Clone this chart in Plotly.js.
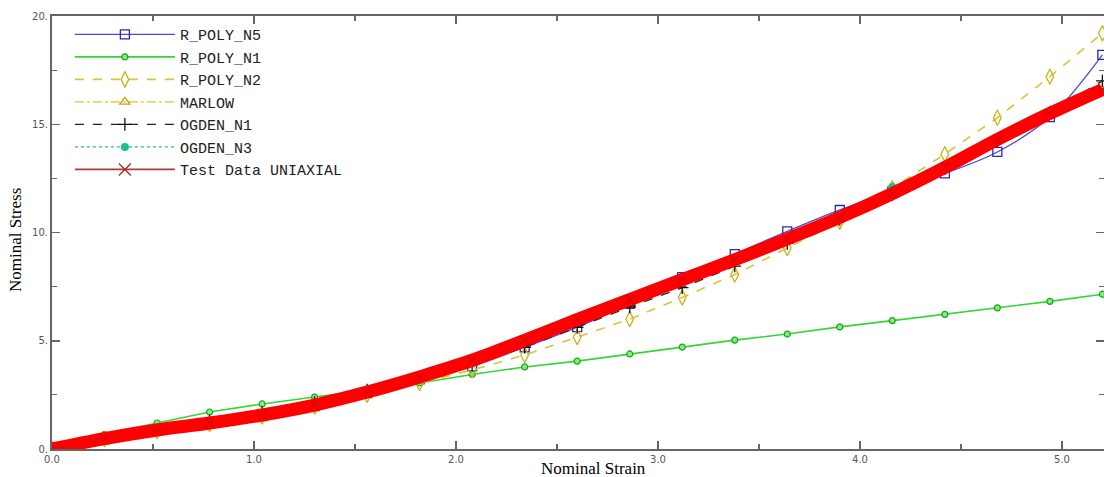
<!DOCTYPE html>
<html>
<head>
<meta charset="utf-8">
<script src="https://cdn.plot.ly/plotly-3.0.1.min.js"></script>
<style>html,body{margin:0;padding:0;background:#fff;}#chart{width:1104px;height:477px;}</style>
</head>
<body>
<div id="chart"></div>
<script>
// Nominal strain at which the models are evaluated
const strain = [0, 0.26, 0.52, 0.78, 1.04, 1.30, 1.56, 1.82, 2.08, 2.34, 2.60, 2.86, 3.12, 3.38, 3.64, 3.90, 4.16, 4.42, 4.68, 4.94, 5.20];

// Nominal stress of each series
const rPolyN5 = [0, 0.45, 0.85, 1.18, 1.52, 1.98, 2.58, 3.22, 3.82, 4.70, 5.63, 6.70, 7.94, 9.00, 10.05, 11.04, 11.90, 12.73, 13.72, 15.33, 18.20];
const rPolyN1 = [0, 0.68, 1.20, 1.71, 2.08, 2.40, 2.72, 3.05, 3.44, 3.79, 4.06, 4.39, 4.71, 5.03, 5.31, 5.64, 5.93, 6.22, 6.52, 6.82, 7.15];
const rPolyN2 = [0, 0.45, 0.82, 1.15, 1.50, 1.95, 2.50, 3.05, 3.65, 4.34, 5.17, 6.00, 7.00, 8.06, 9.28, 10.50, 12.05, 13.62, 15.30, 17.20, 19.20];
const marlow  = [0, 0.47, 0.87, 1.20, 1.56, 2.02, 2.62, 3.32, 4.08, 5.00, 5.96, 6.88, 7.80, 8.72, 9.68, 10.68, 11.78, 12.98, 14.28, 15.48, 16.58];
const ogdenN1 = [0, 0.50, 0.90, 1.30, 1.68, 2.15, 2.72, 3.30, 3.90, 4.70, 5.62, 6.56, 7.45, 8.45, 9.50, 10.60, 11.75, 12.95, 14.20, 15.55, 17.00];
const ogdenN3 = [0, 0.46, 0.86, 1.20, 1.58, 2.05, 2.65, 3.35, 4.10, 5.00, 5.95, 6.88, 7.80, 8.72, 9.70, 10.78, 12.10, 13.05, 14.30, 15.50, 16.50];
const testData = [0, 0.48, 0.88, 1.20, 1.57, 2.03, 2.63, 3.33, 4.10, 5.02, 5.98, 6.90, 7.82, 8.74, 9.70, 10.70, 11.80, 13.00, 14.30, 15.50, 16.60];

// Tick labels
const xTickVals = [0, 1, 2, 3, 4, 5];
const xTickText = ['0.0', '1.0', '2.0', '3.0', '4.0', '5.0'];
const yTickVals = [0, 5, 10, 15, 20];
const yTickText = ['0.', '5.', '10.', '15.', '20.'];

const traces = [
  {name: 'R_POLY_N5', x: strain, y: rPolyN5, mode: 'lines+markers',
   line: {color: '#4a4ad8', width: 1.3, shape: 'spline'},
   marker: {symbol: 'square-open', size: 9, color: '#2a2aa8', line: {width: 1.3}}},
  {name: 'R_POLY_N1', x: strain, y: rPolyN1, mode: 'lines+markers',
   line: {color: '#33d633', width: 1.6},
   marker: {symbol: 'circle', size: 6, color: '#7cf07c', line: {color: '#1ea01e', width: 1.2}}},
  {name: 'R_POLY_N2', x: strain, y: rPolyN2, mode: 'lines+markers',
   line: {color: '#d8c43a', width: 1.6, dash: 'dash'},
   marker: {symbol: 'diamond-tall-open', size: 11, color: '#c8b414', line: {width: 1.3}}},
  {name: 'MARLOW', x: strain, y: marlow, mode: 'lines+markers',
   line: {color: '#d8c43a', width: 1.3, dash: 'dashdot'},
   marker: {symbol: 'triangle-up-open', size: 9, color: '#c8a414', line: {width: 1.3}}},
  {name: 'OGDEN_N1', x: strain, y: ogdenN1, mode: 'lines+markers',
   line: {color: '#222222', width: 1.3, dash: 'dash'},
   marker: {symbol: 'cross-thin', size: 9, color: '#111111', line: {color: '#111111', width: 1.3}}},
  {name: 'OGDEN_N3', x: strain, y: ogdenN3, mode: 'lines+markers',
   line: {color: '#22c08c', width: 1.2, dash: 'dot'},
   marker: {symbol: 'circle', size: 8, color: '#1fbf8f'}},
  {name: 'Test Data UNIAXIAL', x: strain, y: testData, mode: 'lines+markers', showlegend: false,
   line: {color: '#ff0000', width: 13, shape: 'spline'},
   marker: {symbol: 'x-thin', size: 9, color: '#e00000', line: {color: '#e00000', width: 1.5}}},
  {name: 'Test Data UNIAXIAL', x: [null], y: [null], mode: 'lines+markers',
   line: {color: '#b03a3a', width: 1.6},
   marker: {symbol: 'x-thin', size: 12, color: '#a03030', line: {color: '#a03030', width: 1.4}}}
];

const tickFont = {family: 'DejaVu Sans, Verdana, sans-serif', size: 10, color: '#555555'};

const layout = {
  width: 1104, height: 477,
  margin: {l: 52, r: 0, t: 16, b: 28, pad: 0},
  paper_bgcolor: '#ffffff', plot_bgcolor: '#ffffff',
  showlegend: true,
  legend: {x: 0.017, y: 0.995, xanchor: 'left', yanchor: 'top', bgcolor: 'rgba(0,0,0,0)',
           font: {family: 'Liberation Mono, Courier New, monospace', size: 15, color: '#222222'},
           itemwidth: 100, tracegroupgap: 0},
  xaxis: {range: [0, 5.208], showgrid: false, zeroline: false,
          showline: true, linecolor: '#666666', linewidth: 2, mirror: 'ticks',
          ticks: 'inside', ticklen: 8, tickwidth: 1.5, tickcolor: '#666666',
          tickvals: xTickVals, ticktext: xTickText, tickfont: tickFont,
          minor: {dtick: 0.5, ticks: 'inside', ticklen: 5, tickwidth: 1.2, tickcolor: '#666666', showgrid: false}},
  yaxis: {range: [0, 20], showgrid: false, zeroline: false,
          showline: true, linecolor: '#666666', linewidth: 2, mirror: 'ticks',
          ticks: 'inside', ticklen: 8, tickwidth: 1.5, tickcolor: '#666666',
          tickvals: yTickVals, ticktext: yTickText, tickfont: tickFont,
          minor: {dtick: 2.5, ticks: 'inside', ticklen: 5, tickwidth: 1.2, tickcolor: '#666666', showgrid: false}},
  annotations: [
    {text: 'Nominal Strain', xref: 'paper', yref: 'paper', x: 0.515, y: -0.044,
     xanchor: 'center', yanchor: 'middle', showarrow: false,
     font: {family: 'Liberation Serif, Times New Roman, serif', size: 17, color: '#000000'}},
    {text: 'Nominal Stress', xref: 'paper', yref: 'paper', x: -0.034, y: 0.483,
     xanchor: 'center', yanchor: 'middle', showarrow: false, textangle: -90,
     font: {family: 'Liberation Serif, Times New Roman, serif', size: 17, color: '#000000'}}
  ]
};

Plotly.newPlot('chart', traces, layout, {displayModeBar: false, staticPlot: true});
</script>
</body>
</html>
